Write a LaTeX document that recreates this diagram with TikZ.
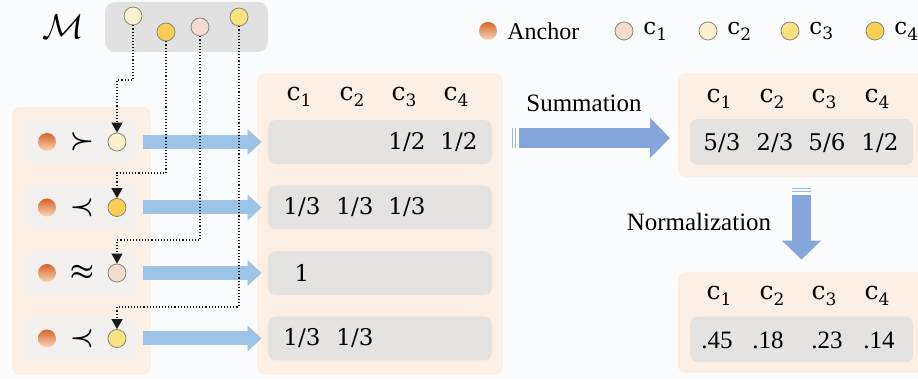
\documentclass[tikz,border=0pt]{standalone}
\usepackage{amssymb, amsmath}
\usepackage{fontspec}
\setmainfont{Liberation Serif}
\newfontfamily\cfont{DejaVu Serif}
\usetikzlibrary{arrows.meta}
\definecolor{pagebg}{RGB}{251,252,254}
\definecolor{candA}{RGB}{246,220,207}
\definecolor{candB}{RGB}{253,241,203}
\definecolor{candC}{RGB}{251,225,128}
\definecolor{candD}{RGB}{249,206,82}
\definecolor{candedge}{RGB}{135,138,130}
\definecolor{peach}{RGB}{252,240,230}
\definecolor{rowgray}{RGB}{229,227,225}
\definecolor{palegray}{RGB}{243,241,240}
\definecolor{memgray}{RGB}{225,225,225}
\definecolor{flowblue}{RGB}{157,195,230}
\definecolor{sumblue}{RGB}{133,166,218}
\definecolor{anchortop}{RGB}{212,100,40}
\definecolor{anchorbot}{RGB}{252,214,185}
\newcommand{\cc}[1]{{\cfont c\raisebox{-.5ex}{\fontsize{8.5}{9}\selectfont #1}}}
\tikzset{
  cand/.style={circle,draw=candedge,thin,minimum size=9pt,inner sep=0pt},
  anchordot/.style={circle,minimum size=9pt,inner sep=0pt,top color=anchortop,bottom color=anchorbot},
  panel/.style={fill=peach,rounded corners=4pt,inner sep=0pt},
  lbox/.style={fill=palegray,rounded corners=4pt,minimum width=56pt,minimum height=22pt},
  rowbox/.style={fill=rowgray,rounded corners=4pt,minimum height=22pt},
  num/.style={font=\cfont\fontsize{11.5}{14}\selectfont,inner sep=0pt},
  txt/.style={font=\fontsize{12.5}{15}\selectfont,inner sep=0pt},
  link/.style={densely dotted,line width=0.55pt,black!90,-{Triangle[length=5pt,width=5.5pt]}},
  flow/.style={flowblue,line width=7pt,shorten <=3pt,shorten >=3pt,-{Triangle[length=7pt,width=12.5pt]}},
  bigflow/.style={sumblue,line width=10pt,-{Triangle[length=10pt,width=19.5pt]}},
}

\begin{document}
\begin{tikzpicture}[x=0.5pt,y=-0.5pt]
  \useasboundingbox (0,0) rectangle (918,379);
  \fill[pagebg] (0,0) rectangle (918,379);

  % memory of candidates
  \node (mem) at (186.5,27) [fill=memgray,rounded corners=5pt,minimum width=81.5pt,minimum height=25pt] {};
  \node (mlabel) at (63,27) {\fontsize{16}{18}\selectfont$\mathcal{M}$};
  \node (mB) at (133,16) [cand,fill=candB] {};
  \node (mD) at (166,32) [cand,fill=candD] {};
  \node (mA) at (200,27) [cand,fill=candA] {};
  \node (mC) at (239,17) [cand,fill=candC] {};

  % legend
  \node (lga) at (488,31) [anchordot] {};
  \node (lgatxt) at (507,31) [txt,anchor=west,font=\fontsize{12}{14}\selectfont] {Anchor};
  \foreach \i/\x/\c in {1/624/candA,2/708/candB,3/790/candC,4/875/candD}
  {
    \node (lg\i) at (\x,31) [cand,fill=\c] {};
    \node (lgtxt\i) at (\x+19,31) [num,anchor=west] {\cc{\i}};
  }

  % panels
  \node (lpanel) at (81.5,241) [panel,minimum width=69.5pt,minimum height=134pt] {};
  \node (mpanel) at (380,224) [panel,minimum width=123pt,minimum height=151pt] {};
  \node (spanel) at (801.5,125) [panel,minimum width=123.5pt,minimum height=52pt] {};
  \node (npanel) at (801.5,322.5) [panel,minimum width=123.5pt,minimum height=50.5pt] {};

  % comparisons with the anchor, one per row
  \foreach \i/\y/\rel/\c in {1/142/\succ/candB,2/207.5/\prec/candD,3/273/\approx/candA,4/338.5/\prec/candC}
  {
    \node (lrow\i) at (81,\y) [lbox] {};
    \node (anc\i) at (47,\y) [anchordot] {};
    \node (rel\i) at (82,\y) {\scalebox{1.35}{\boldmath$\rel$}};
    \node (cnd\i) at (117,\y) [cand,fill=\c] {};
    \node (mrow\i) at (380,\y) [rowbox,minimum width=112pt] {};
    \draw[flow] (lrow\i.east) -- (mrow\i.west);
  }

  % candidates taken from memory
  \coordinate (k1) at (117,80);
  \coordinate (k2) at (117,173);
  \coordinate (k3) at (117,240);
  \coordinate (k4) at (117,307);
  \draw[link] (mB.south) |- (k1) -- (cnd1.north);
  \draw[link] (mD.south) |- (k2) -- (cnd2.north);
  \draw[link] (mA.south) |- (k3) -- (cnd3.north);
  \draw[link] (mC.south) |- (k4) -- (cnd4.north);

  % scores per row
  \foreach \k/\x in {1/302,2/355,3/407,4/459}
    \node (mh\k) at (\x-3,97) [num,font=\cfont\fontsize{12.5}{14}\selectfont] {\cc{\k}};
  \node (a13) at (407,142) [num] {1/2};
  \node (a14) at (459,142) [num] {1/2};
  \node (a21) at (302,207.5) [num] {1/3};
  \node (a22) at (355,207.5) [num] {1/3};
  \node (a23) at (407,207.5) [num] {1/3};
  \node (a31) at (302,273) [num] {1};
  \node (a41) at (302,338.5) [num] {1/3};
  \node (a42) at (355,338.5) [num] {1/3};

  % summation
  \node (sumtxt) at (584,103) [txt] {Summation};
  \coordinate (sumL) at (519,138);
  \coordinate (sumR) at (670,138);
  \foreach \x in {511.5,514.5}
    \fill[sumblue!80] (\x,128) rectangle ++(1.5,20);
  \draw[bigflow] (sumL) -- (sumR);
  \node (srow) at (801.5,142) [rowbox,minimum width=111.5pt,minimum height=23pt] {};
  \foreach \k/\x in {1/722,2/775,3/827,4/880}
    \node (sh\k) at (\x-3,99) [num,font=\cfont\fontsize{12.5}{14}\selectfont] {\cc{\k}};
  \node (s1) at (722,143) [num] {5/3};
  \node (s2) at (775,143) [num] {2/3};
  \node (s3) at (827,143) [num] {5/6};
  \node (s4) at (880,143) [num] {1/2};

  % normalization
  \node (normtxt) at (699,222) [txt] {Normalization};
  \foreach \y in {188,191}
    \fill[sumblue!80] (791.75,\y) rectangle ++(19.5,1.5);
  \draw[bigflow,line width=9.5pt,-{Triangle[length=9.5pt,width=19pt]},shorten <=9pt,shorten >=6pt] (spanel.south) -- (npanel.north);
  \node (nrow) at (801.5,339.5) [rowbox,minimum width=111.5pt,minimum height=23pt] {};
  \foreach \k/\x in {1/722,2/775,3/827,4/880}
    \node (nh\k) at (\x-3,296) [num,font=\cfont\fontsize{12.5}{14}\selectfont] {\cc{\k}};
  \node (n1) at (717,340) [txt,font=\fontsize{12.5}{14}\selectfont] {.45};
  \node (n2) at (768,340) [txt,font=\fontsize{12.5}{14}\selectfont] {.18};
  \node (n3) at (827,340) [txt,font=\fontsize{12.5}{14}\selectfont] {.23};
  \node (n4) at (879,340) [txt,font=\fontsize{12.5}{14}\selectfont] {.14};
\end{tikzpicture}
\end{document}
